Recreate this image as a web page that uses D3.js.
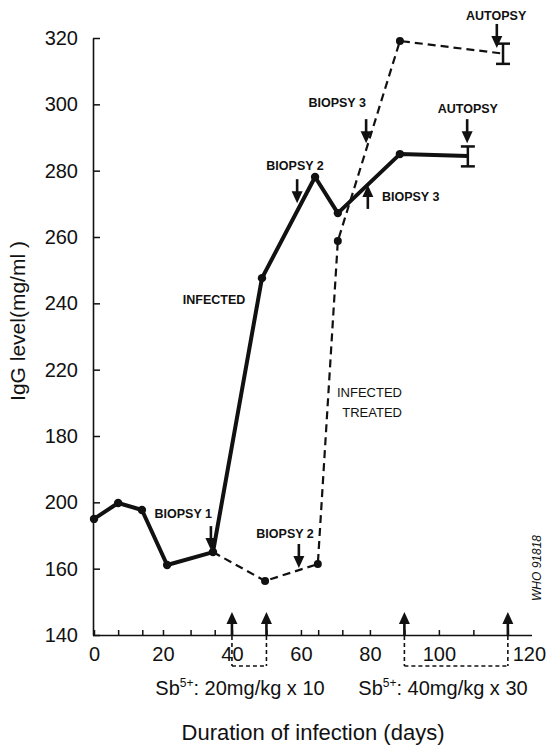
<!DOCTYPE html>
<html><head><meta charset="utf-8">
<script src="https://cdn.jsdelivr.net/npm/d3@7"></script>
<style>
body{margin:0;background:#fff}
svg{display:block}
text{font-family:"Liberation Sans",Arial,Helvetica,sans-serif;fill:#111}
</style>
</head><body>
<svg id="c" width="549" height="747"></svg>
<script>
// ---- data ----
const yTickValues = [140,160,180,200,220,240,260,280,300,320];
const yTickLabels = ["140","160","200","180","220","240","260","280","300","320"]; // as printed in the original
const xLabelTicks = [0,20,40,60,80,100,120];
const xMinorTicks = [7,14,28,35,50,65,72,90,110];

const infectedDays = [0, 7, 13.9, 21.2, 34.5, 48.7, 64.1, 70.7, 88.7, 108.4];
const infectedIgG  = [175, 179.8, 177.7, 161.1, 165, 247.6, 278.1, 267.2, 285, 284.4];

const treatedDays = [34.5, 49.6, 64.9, 70.7, 88.7, 118.6];
const treatedIgG  = [165, 156.3, 161.4, 258.8, 319.1, 315.3];

const errorDays = [108.4, 118.6];
const errorLow  = [281.3, 312.2];
const errorHigh = [287.3, 318.3];

const annotText   = ["BIOPSY 1","BIOPSY 2","BIOPSY 3","BIOPSY 3","AUTOPSY","AUTOPSY","BIOPSY 2"];
const annotDay    = [33.9, 58.9, 79.4, 78.9, 116.8, 108.2, 59.4];
const annotValue  = [165.6, 270.2, 275.7, 288.3, 317, 288.3, 160.2];
const annotDir    = ["down","down","up","down","down","down","down"];
const annotLabelDay   = [34.2, 58.3, 83.5, 70.5, 116.6, 108.4, 55.4];
const annotLabelValue = [175.3, 280.2, 270.8, 299.2, 325.4, 297.4, 169.2];
const annotAnchor = ["end","middle","start","middle","middle","middle","middle"];

const treatmentStart = [40, 90];
const treatmentEnd   = [50, 120];
const treatmentText  = ["20mg/kg x 10", "40mg/kg x 30"];

// ---- scales ----
const svg = d3.select("#c");
const x = d3.scaleLinear().domain([0,127]).range([94,532]);
const y = d3.scaleLinear().domain([140,320]).range([635,38]);

// ---- axes ----
const yAxis = d3.axisLeft(y).tickValues(yTickValues)
  .tickFormat((d,i)=>yTickLabels[i]).tickSize(-7).tickSizeOuter(0).tickPadding(15);
const gy = svg.append("g").attr("transform","translate(93,0)").call(yAxis);
gy.selectAll("text").style("font-size","20px").attr("fill","#111");
gy.select(".domain").attr("stroke","#111").attr("stroke-width",1.6);
gy.selectAll(".tick line").attr("stroke","#111").attr("stroke-width",1.5);

const allX = xLabelTicks.concat(xMinorTicks).sort((a,b)=>a-b);
const xAxis = d3.axisBottom(x).tickValues(allX)
  .tickFormat(d=>xLabelTicks.includes(d)?String(d):"").tickSize(-5).tickSizeOuter(0).tickPadding(12);
const gx = svg.append("g").attr("transform","translate(0,635)").call(xAxis);
gx.selectAll("text").style("font-size","20px").attr("fill","#111")
  .attr("dx", d=>d===120?21:0);
gx.select(".domain").attr("stroke","#111").attr("stroke-width",1.6)
  .attr("d", `M${93},0.5H${x(127)}`);
gx.selectAll(".tick line").attr("stroke","#111").attr("stroke-width",1.5);

// axis titles
svg.append("text").attr("x",313).attr("y",740).attr("text-anchor","middle")
  .style("font-size","22px").text("Duration of infection (days)");
svg.append("text").attr("transform","translate(25,321) rotate(-90)").attr("text-anchor","middle")
  .style("font-size","21px").text("IgG level(mg/ml )");

// ---- lines ----
const line = d3.line().x(d=>x(d[0])).y(d=>y(d[1]));
const infected = infectedDays.map((d,i)=>[d,infectedIgG[i]]);
const treated = treatedDays.map((d,i)=>[d,treatedIgG[i]]);

svg.append("path").datum(treated).attr("d",line).attr("fill","none")
  .attr("stroke","#111").attr("stroke-width",2.2).attr("stroke-dasharray","8,5");
svg.append("path").datum(infected).attr("d",line).attr("fill","none")
  .attr("stroke","#111").attr("stroke-width",4).attr("stroke-linejoin","round");

svg.selectAll("circle.inf").data(infected.slice(0,-1)).join("circle")
  .attr("cx",d=>x(d[0])).attr("cy",d=>y(d[1])).attr("r",4.2).attr("fill","#111");
svg.selectAll("circle.tr").data(treated.slice(1,-1)).join("circle")
  .attr("cx",d=>x(d[0])).attr("cy",d=>y(d[1])).attr("r",4).attr("fill","#111");

// error bars
errorDays.forEach((d,i)=>{
  const g = svg.append("g").attr("stroke","#111").attr("stroke-width",2.5);
  g.append("line").attr("x1",x(d)).attr("x2",x(d)).attr("y1",y(errorLow[i])).attr("y2",y(errorHigh[i]));
  g.append("line").attr("x1",x(d)-7).attr("x2",x(d)+7).attr("y1",y(errorLow[i])).attr("y2",y(errorLow[i]));
  g.append("line").attr("x1",x(d)-7).attr("x2",x(d)+7).attr("y1",y(errorHigh[i])).attr("y2",y(errorHigh[i]));
});

// ---- annotation arrows ----
function arrow(tx, ty, dir, len){
  const s = dir==="down" ? -1 : 1;
  const g = svg.append("g");
  g.append("line").attr("x1",tx).attr("x2",tx).attr("y1",ty+s*8).attr("y2",ty+s*len)
    .attr("stroke","#111").attr("stroke-width",2.6);
  g.append("path").attr("d",`M${tx},${ty}L${tx-5.5},${ty+s*12}L${tx+5.5},${ty+s*12}Z`).attr("fill","#111");
}
annotText.forEach((t,i)=>{
  arrow(x(annotDay[i]), y(annotValue[i]), annotDir[i], 24);
  svg.append("text").attr("x",x(annotLabelDay[i])).attr("y",y(annotLabelValue[i]))
    .attr("text-anchor",annotAnchor[i]).style("font-size","12.5px").style("font-weight","bold").text(t);
});

svg.append("text").attr("x",x(34.8)).attr("y",y(241.3)+4.5).attr("text-anchor","middle")
  .style("font-size","12.5px").style("font-weight","bold").text("INFECTED");
svg.append("text").attr("x",x(89.3)).attr("y",y(213)+4.5).attr("text-anchor","end")
  .style("font-size","13px").text("INFECTED");
svg.append("text").attr("x",x(89.3)).attr("y",y(207.2)+4.5).attr("text-anchor","end")
  .style("font-size","13px").text("TREATED");

// ---- treatment arrows & brackets ----
treatmentStart.forEach((s,i)=>{
  const days = [s, treatmentEnd[i]];
  days.forEach(d=>{
    arrow(x(d), 612, "up", 23);
    svg.append("line").attr("x1",x(d)).attr("x2",x(d)).attr("y1",636).attr("y2",666)
      .attr("stroke","#111").attr("stroke-width",1.6).attr("stroke-dasharray","4,3");
  });
  svg.append("line").attr("x1",x(s)).attr("x2",x(treatmentEnd[i])).attr("y1",666).attr("y2",666)
    .attr("stroke","#111").attr("stroke-width",1.6).attr("stroke-dasharray","4,3");
});
const txtX = [240, 443];
treatmentText.forEach((t,i)=>{
  const tt = svg.append("text").attr("x",txtX[i]).attr("y",695).attr("text-anchor","middle")
    .style("font-size","20px");
  tt.append("tspan").text("Sb");
  tt.append("tspan").attr("dy",-8).style("font-size","12px").text("5+");
  tt.append("tspan").attr("dy",8).text(": " + t);
});

svg.append("text").attr("transform","translate(541,568) rotate(-90)").attr("text-anchor","middle")
  .style("font-size","12px").style("font-style","italic").text("WHO 91818");
</script>
</body></html>
